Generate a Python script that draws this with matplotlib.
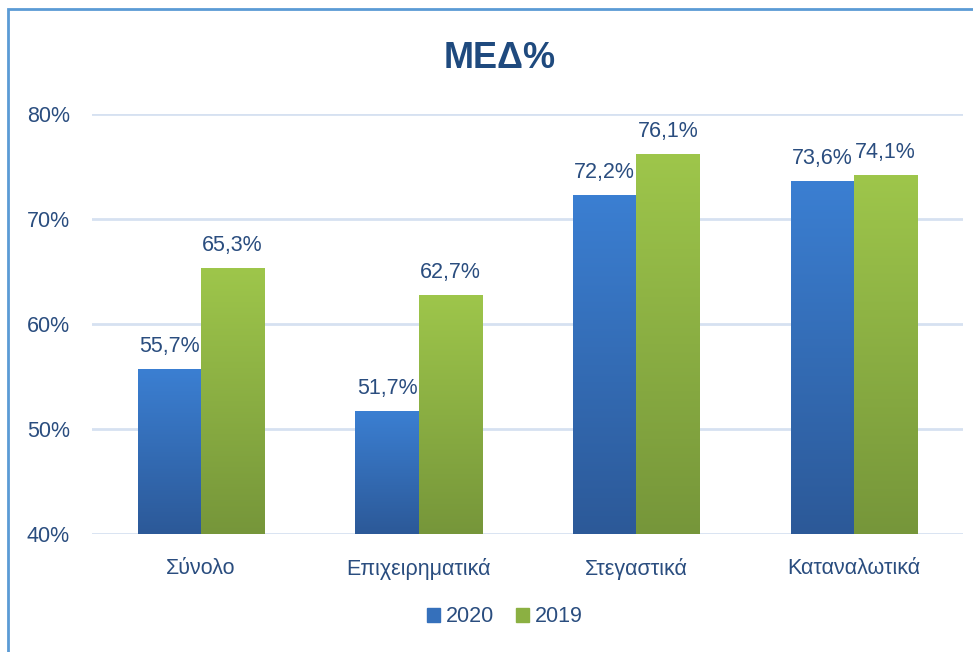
import numpy as np
import matplotlib.pyplot as plt
from matplotlib.colors import LinearSegmentedColormap
from matplotlib.patches import Rectangle

categories = ['Σύνολο', 'Επιχειρηματικά', 'Στεγαστικά', 'Καταναλωτικά']
v2020 = [55.7, 51.7, 72.2, 73.6]
v2019 = [65.3, 62.7, 76.1, 74.1]
series = ['2020', '2019']
yticks = [40, 50, 60, 70, 80]

plt.rcParams['font.family'] = ['Liberation Sans', 'DejaVu Sans']
txt = '#2a4d7f'

fig = plt.figure(figsize=(9.73, 6.52), dpi=100)
ax = fig.add_axes([92/973, 1-534/652, (963-92)/973, (534-114)/652])

blue = LinearSegmentedColormap.from_list('b', ['#2c5998', '#3b7fd2'])
green = LinearSegmentedColormap.from_list('g', ['#76963a', '#9ec64b'])
grad = np.linspace(0, 1, 256).reshape(-1, 1)

w = 0.29
x = np.arange(len(categories))

for vals, cmap, off in [(v2020, blue, -w/2), (v2019, green, w/2)]:
    for xi, v in zip(x, vals):
        ax.imshow(grad, cmap=cmap, origin='lower', aspect='auto',
                  extent=[xi+off-w/2, xi+off+w/2, 40, v], zorder=3)
        ax.text(xi+off, v + 1.2, f'{v:.1f}%'.replace('.', ','), ha='center',
                va='bottom', fontsize=15.5, color=txt, zorder=4)
ax.set_xlim(-0.5, len(categories) - 0.5)
ax.set_ylim(40, 80)
ax.set_aspect('auto')

ax.set_yticks(yticks)
ax.set_yticklabels([f'{t}%' for t in yticks])
ax.set_xticks(x)
ax.set_xticklabels(categories)
ax.tick_params(length=0, labelsize=15.5, colors=txt)
ax.tick_params(axis='x', pad=17)
ax.tick_params(axis='y', pad=16)
ax.grid(axis='y', color='#d6e1f1', linewidth=2, zorder=0)
for s in ax.spines.values():
    s.set_visible(False)

fig.text(500/973, 1-58/652, 'ΜΕΔ%', ha='center', va='center', fontsize=26,
         fontweight='bold', color='#1f4a7e')

handles = [Rectangle((0, 0), 1, 1, color='#3570bb'), Rectangle((0, 0), 1, 1, color='#8bb042')]
fig.legend(handles, series, loc='center', bbox_to_anchor=(505/973, 1-617/652),
           ncol=2, frameon=False, fontsize=15.5, labelcolor=txt,
           handlelength=0.6, handleheight=0.6, handletextpad=0.3, columnspacing=1.0)

fig.patches.append(Rectangle((8/973, -0.1), 1.1, 1.1 - 9/652, transform=fig.transFigure,
                             fill=False, edgecolor='#5b9bd5', linewidth=2, clip_on=False))

fig.savefig('out.png', dpi=100)
